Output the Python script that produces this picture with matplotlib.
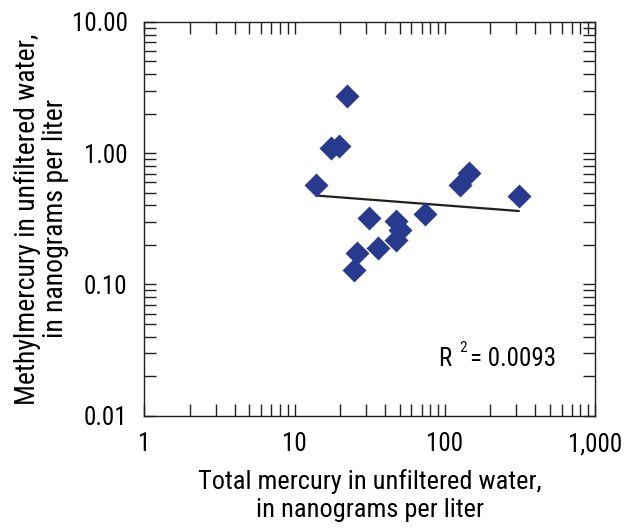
import matplotlib
matplotlib.use("Agg")
import matplotlib.pyplot as plt
from matplotlib.ticker import FixedLocator, NullFormatter

plt.rcParams['font.family'] = ['Roboto Condensed', 'DejaVu Sans']

# total mercury (ng/L) vs methylmercury (ng/L)
total_hg = [22.5, 17.4, 19.7, 14.0, 31.3, 73.3, 47.5, 50.0, 47.5, 35.9, 26.1, 24.7, 127, 146, 313]
methyl_hg = [2.75, 1.10, 1.13, 0.575, 0.321, 0.345, 0.303, 0.262, 0.22, 0.19, 0.174, 0.13, 0.575, 0.706, 0.47]

# regression line end points
fit_x = [14.3, 310]
fit_y = [0.475, 0.363]

xticks = [1, 10, 100, 1000]
xticklabels = ['1', '10', '100', '1,000']
yticks = [0.01, 0.1, 1, 10]
yticklabels = ['0.01', '0.10', '1.00', '10.00']

fig = plt.figure(figsize=(6.25, 5.31), dpi=100)
ax = fig.add_axes([0.2309, 0.2171, 0.7211, 0.7415])

ax.plot(fit_x, fit_y, color='#231f20', lw=1.6, zorder=2)
ax.plot(total_hg, methyl_hg, 'D', color='#283a8e', ms=12.5, mec='none', zorder=3)

ax.set_xscale('log')
ax.set_yscale('log')
ax.set_xlim(1, 1000)
ax.set_ylim(0.01, 10)

ax.xaxis.set_major_locator(FixedLocator(xticks))
ax.set_xticklabels(xticklabels)
ax.yaxis.set_major_locator(FixedLocator(yticks))
ax.set_yticklabels(yticklabels)
minors_x = [m * 10 ** d for d in range(0, 3) for m in range(2, 10)]
minors_y = [m * 10.0 ** d for d in range(-2, 1) for m in range(2, 10)]
ax.xaxis.set_minor_locator(FixedLocator(minors_x))
ax.yaxis.set_minor_locator(FixedLocator(minors_y))
ax.xaxis.set_minor_formatter(NullFormatter())
ax.yaxis.set_minor_formatter(NullFormatter())

ax.tick_params(which='both', direction='in', top=True, right=True,
               length=8.5, width=1.0, color='#231f20')
ax.tick_params(axis='x', which='major', labelsize=18, pad=12)
ax.tick_params(axis='y', which='major', labelsize=18, pad=12)
for s in ax.spines.values():
    s.set_linewidth(1.0)
    s.set_color('#231f20')

ax.set_xlabel('Total mercury in unfiltered water,\nin nanograms per liter',
              fontsize=19, labelpad=9, linespacing=1.2)
ax.set_ylabel('Methylmercury in unfiltered water,\nin nanograms per liter',
              fontsize=20, labelpad=2, linespacing=1.05)

ax.text(0.652, 0.126, 'R', transform=ax.transAxes, fontsize=18, va='baseline')
ax.text(0.698, 0.163, '2', transform=ax.transAxes, fontsize=11, va='baseline')
ax.text(0.722, 0.126, '= 0.0093', transform=ax.transAxes, fontsize=18, va='baseline')

fig.savefig('out.png', dpi=100)
